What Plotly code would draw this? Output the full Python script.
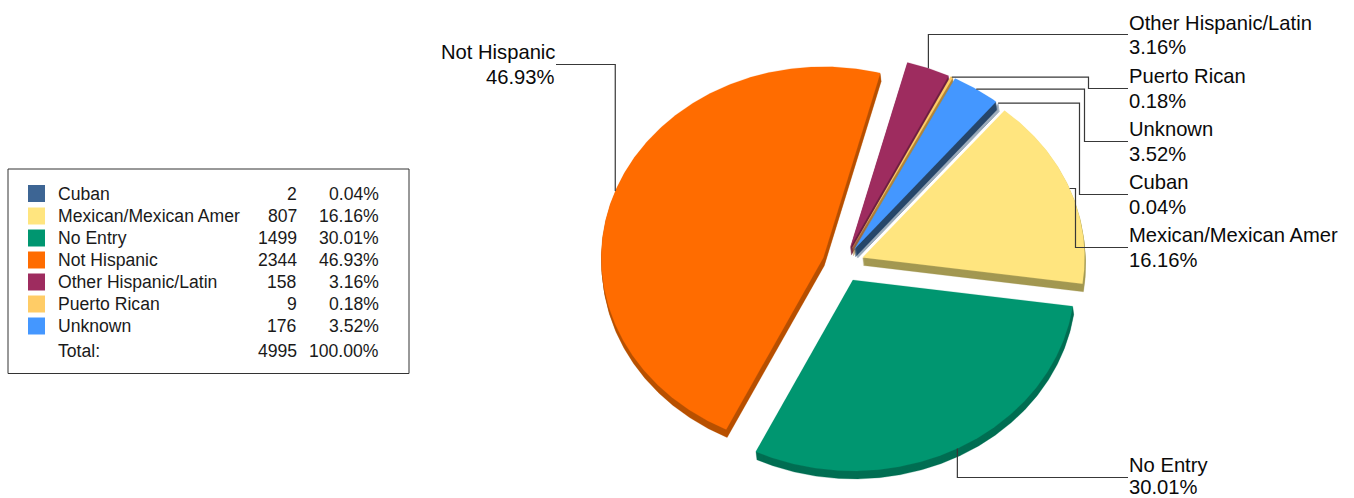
import math
import plotly.graph_objects as go

categories = ["Cuban", "Mexican/Mexican Amer", "No Entry", "Not Hispanic",
              "Other Hispanic/Latin", "Puerto Rican", "Unknown"]
counts = [2, 807, 1499, 2344, 158, 9, 176]
face_colors = ["#3D6594", "#FFE57F", "#009670", "#FF6C00", "#9E2C5F", "#FFCC66", "#4497FF"]
side_colors = ["#27466B", "#A39852", "#006E52", "#B85000", "#6E1E42", "#B0853A", "#27466B"]

# Pie geometry in page pixels
CX, CY = 843.0, 264.0
RX, RY = 222.0, 191.0
PULL = 21.0
DEPTH = 8
SIDE_DRIFT = 0.12
START_DEG = 39.6
total = sum(counts)
pct = [100.0 * c / total for c in counts]


def unit(deg):
    a = math.radians(deg)
    return math.sin(a), -math.cos(a)


def wedge(start, sweep):
    ux, uy = unit(start + sweep / 2)
    tx = CX + PULL * ux
    ty = CY + PULL * uy * RY / RX
    xs, ys = [tx], [ty]
    steps = max(2, int(sweep * 2))
    for i in range(steps + 1):
        px, py = unit(start + sweep * i / steps)
        xs.append(tx + RX * px)
        ys.append(ty + RY * py)
    xs.append(tx)
    ys.append(ty)
    return xs, ys


fig = go.Figure()
angles = {}
cursor = START_DEG
for i, c in enumerate(counts):
    sweep = 360.0 * c / total
    angles[i] = (cursor, sweep)
    cursor += sweep

# Back slices first so the nearer ones sit on top
for i in [3, 4, 5, 0, 6, 1, 2]:
    start, sweep = angles[i]
    xs, ys = wedge(start, sweep)
    side_x, side_y = [], []
    for k in range(1, DEPTH + 1):
        side_x += [x + k * SIDE_DRIFT for x in xs] + [None]
        side_y += [y + k for y in ys] + [None]
    fig.add_trace(go.Scatter(x=side_x, y=side_y, mode="lines", fill="toself",
                             fillcolor=side_colors[i], line=dict(width=0.3, color=side_colors[i]),
                             hoverinfo="skip", showlegend=False))
    fig.add_trace(go.Scatter(x=xs, y=ys, mode="lines", fill="toself",
                             fillcolor=face_colors[i], line=dict(width=0.2, color=face_colors[i]),
                             name=categories[i], hoverinfo="name", showlegend=False))


def anchor(i):
    start, sweep = angles[i]
    ux, uy = unit(start + sweep / 2)
    return (CX + PULL * ux + RX * ux, CY + PULL * uy * RY / RX + RY * uy)


# Leader routing: label row y and the elbow column, per slice
LABEL_X = 1128
leaders = {
    4: ("vh", 34.5, None),
    5: ("hvh", 88.5, 1088.5),
    6: ("hvh", 141.5, 1084.5),
    0: ("hvh", 194.5, 1079.5),
    1: ("hvh", 247.5, 1075.5),
    2: ("vh", 477.5, None),
    3: ("vh", 64.5, None),
}
for i, (kind, row, elbow) in leaders.items():
    ax, ay = anchor(i)
    end = 556 if i == 3 else LABEL_X
    if kind == "vh":
        lx, ly = [ax, ax, end], [ay, row, row]
    else:
        lx, ly = [ax, elbow, elbow, end], [ay, ay, row, row]
    fig.add_trace(go.Scatter(x=lx, y=ly, mode="lines", line=dict(color="#383838", width=1.2),
                             hoverinfo="skip", showlegend=False))

LABEL_FONT = dict(family="Liberation Sans, Arial, sans-serif", size=20.2, color="#0A0A0A")
LEGEND_FONT = dict(family="Liberation Sans, Arial, sans-serif", size=17.6, color="#1A1A1A")
annotations = []


def text(x, y, s, font, align="left"):
    annotations.append(dict(x=x, y=y, xref="x", yref="y", text=s, showarrow=False, font=font,
                            xanchor=align, yanchor="middle", borderpad=0, borderwidth=0))


label_rows = {4: 22.5, 5: 76, 6: 129, 0: 182, 1: 235, 2: 465}
for i, y in label_rows.items():
    text(1129, y, categories[i], LABEL_FONT)
    text(1129, min(y + 24.5, 486.5), f"{pct[i]:.2f}%", LABEL_FONT)
text(555, 52, categories[3], LABEL_FONT, "right")
text(555, 77, f"{pct[3]:.2f}%", LABEL_FONT, "right")

# Summary table to the left of the pie
legend_rows = [193.5, 216, 238, 260, 282, 304, 326]
fig.add_trace(go.Scatter(x=[36.5] * len(categories), y=legend_rows, mode="markers",
                         marker=dict(symbol="square", size=17, color=face_colors, line=dict(width=0)),
                         hoverinfo="skip", showlegend=False))
for i, y in enumerate(legend_rows):
    text(58, y, categories[i], LEGEND_FONT)
    text(297, y, str(counts[i]), LEGEND_FONT, "right")
    text(379, y, f"{pct[i]:.2f}%", LEGEND_FONT, "right")
text(58, 351, "Total:", LEGEND_FONT)
text(297, 351, str(total), LEGEND_FONT, "right")
text(379, 351, f"{sum(pct):.2f}%", LEGEND_FONT, "right")

fig.update_layout(
    width=1354, height=498, margin=dict(l=0, r=0, t=0, b=0),
    paper_bgcolor="white", plot_bgcolor="white", showlegend=False,
    xaxis=dict(range=[0, 1354], visible=False, fixedrange=True),
    yaxis=dict(range=[498, 0], visible=False, fixedrange=True),
    annotations=annotations,
    shapes=[dict(type="rect", xref="x", yref="y", x0=8, y0=169, x1=409, y1=373.5,
                 line=dict(color="#333333", width=1), layer="below")],
)
fig.write_html("out.html")
